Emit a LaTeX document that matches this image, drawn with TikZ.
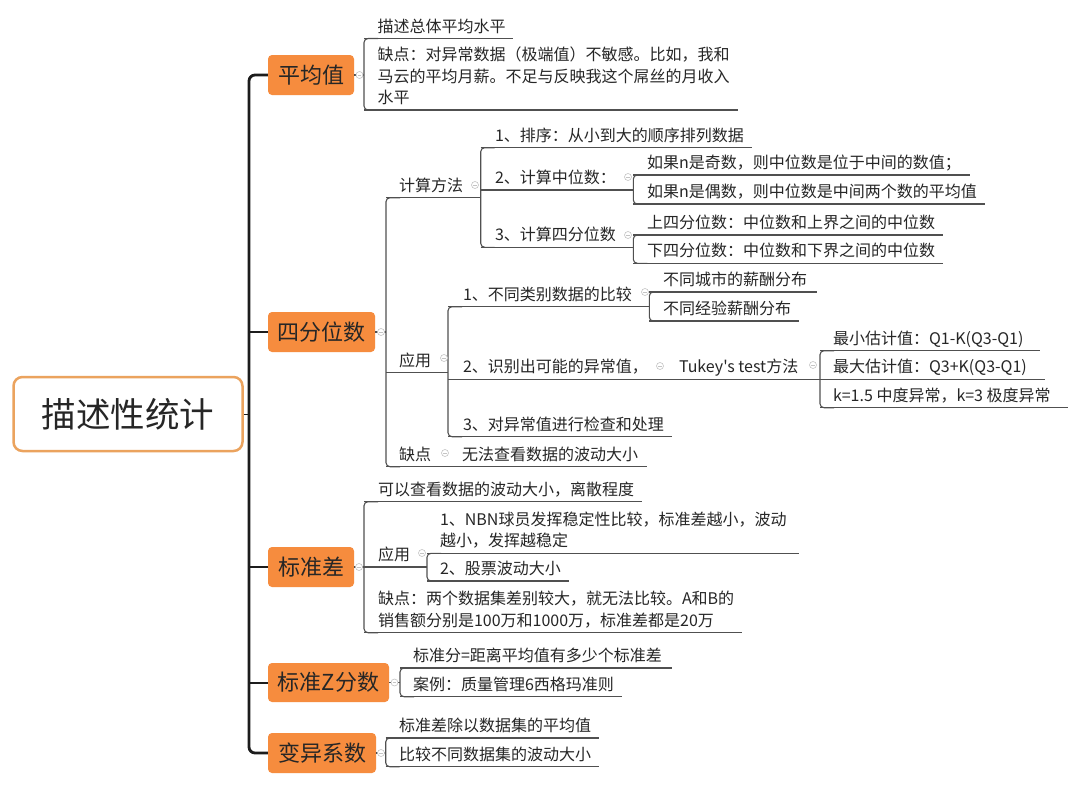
\documentclass[tikz,border=0pt]{standalone}
\usepackage{fontspec}
\setmainfont{Noto Sans CJK SC}[Ligatures=TeXOff]
\usetikzlibrary{calc}
\definecolor{orangefill}{HTML}{F68C3E}
\definecolor{rootborder}{HTML}{EBA35E}
\definecolor{linegray}{HTML}{505050}
\definecolor{txtcol}{HTML}{262626}
\definecolor{icongray}{HTML}{C4C4C4}
\definecolor{spinecol}{HTML}{1C1C1C}

\newcommand\ml[1]{\begin{tabular}[b]{@{}l@{}}#1\end{tabular}}
% name, bracket x, underline y, underline end x, text x, text
\newcommand\topic[6]{%
  \coordinate (#1-l) at (#2,#3);
  \coordinate (#1-r) at (#4,#3);
  \draw[uline] (#1-l) -- (#1-r);
  \node[txt] (#1) at (#5,#3-6.5) {#6};
}
\newcommand\brk[2]{\draw[uline,rounded corners=4pt] ($(#1-l)+(14,0)$) -- (#1-l) -- (#2-l) -- ($(#2-l)+(14,0)$);}
\newcommand\icon[3]{\node[iconc] (#1) at (#2,#3) {};\draw[icongray,line width=0.6pt] ($(#1.center)+(-1.8,0)$) -- ($(#1.center)+(1.8,0)$);}

\begin{document}
\begin{tikzpicture}[x=1pt,y=-1pt,
  uline/.style={draw=linegray,line width=1.1pt},
  txt/.style={anchor=base west,inner sep=0pt,outer sep=0pt,text=txtcol,font=\fontsize{16}{21.5}\selectfont},
  l1box/.style={fill=orangefill,rounded corners=4pt,minimum height=40pt,inner sep=0pt,text=txtcol,font=\fontsize{22}{26}\selectfont},
  rootbox/.style={draw=rootborder,line width=2.5pt,fill=white,rounded corners=9pt,minimum width=229pt,minimum height=74pt,inner sep=0pt,text=txtcol,font=\fontsize{34.5}{40}\selectfont},
  spine/.style={draw=spinecol,line width=2.8pt,rounded corners=6pt},
  branch/.style={draw=spinecol,line width=2pt},
  iconc/.style={circle,draw=icongray,line width=0.6pt,fill=white,minimum size=7pt,inner sep=0pt}
]
\fill[white] (0,0) rectangle (1080,785);
\useasboundingbox (0,0) rectangle (1080,785);

% root and level-1 nodes
\node[rootbox] (root) at (128,414) {描述性统计};
\node[l1box,minimum width=86pt] (p1) at (311,75) {平均值};
\node[l1box,minimum width=107pt] (p2) at (321.5,332) {四分位数};
\node[l1box,minimum width=86pt] (p3) at (311,567) {标准差};
\node[l1box,minimum width=121pt,minimum height=39pt] (p4) at (328.5,682.5) {标准Z分数};
\node[l1box,minimum width=108pt] (p5) at (322,753) {变异系数};

% spine
\coordinate (sp1) at (249,75);
\coordinate (sp5) at (249,753);
\coordinate (sproot) at (249,414);
\draw[spine] (p1.west) -- (sp1) -- (sp5) -- (p5.west);
\draw[branch] (sp1 |- p2.west) -- (p2.west);
\draw[branch] (sp1 |- p3.west) -- (p3.west);
\draw[branch] (sp1 |- p4.west) -- (p4.west);
\draw[draw=spinecol,line width=1pt] (root.east) -- (sproot);

% ---- 平均值
\topic{a1}{364}{38.5}{513}{377.5}{描述总体平均水平}
\topic{a2}{364}{110}{738}{377.5}{\ml{缺点：对异常数据（极端值）不敏感。比如，我和\\马云的平均月薪。不足与反映我这个屌丝的月收入\\水平}}
\brk{a1}{a2}
\draw[uline] (p1.east) -- (a1-l |- p1.east);

% ---- 四分位数
\topic{b1}{386}{197.7}{480.7}{399}{计算方法}
\topic{c1}{480.7}{147.7}{752}{495}{1、排序：从小到大的顺序排列数据}
\topic{c2}{480.7}{190}{633.3}{495}{2、计算中位数：}
\topic{c3}{480.7}{247.3}{633.3}{495}{3、计算四分位数}
\brk{c1}{c3}
\topic{d1}{633.3}{175}{970}{647}{如果n是奇数，则中位数是位于中间的数值；}
\topic{d2}{633.3}{204}{985}{647}{如果n是偶数，则中位数是中间两个数的平均值}
\brk{d1}{d2}
\topic{d3}{633.3}{235}{943}{647}{上四分位数：中位数和上界之间的中位数}
\topic{d4}{633.3}{263.3}{943}{647}{下四分位数：中位数和下界之间的中位数}
\brk{d3}{d4}

\topic{b2}{386}{372.7}{448}{399}{应用}
\topic{e1}{448}{306.7}{649.3}{463}{1、不同类别数据的比较}
\topic{f1}{649.3}{292}{816.7}{663}{不同城市的薪酬分布}
\topic{f2}{649.3}{321}{799}{663}{不同经验薪酬分布}
\brk{f1}{f2}
\topic{e2}{448}{379.3}{665}{463}{2、识别出可能的异常值，}
\topic{g1}{665}{379.3}{820}{679}{Tukey's test方法}
\topic{h1}{820}{350.7}{1040}{833}{最小估计值：Q1-K(Q3-Q1)}
\topic{h2}{820}{379.3}{1045}{833}{最大估计值：Q3+K(Q3-Q1)}
\topic{h3}{820}{407.7}{1068}{833}{k=1.5 中度异常，k=3 极度异常}
\brk{h1}{h3}
\topic{e3}{448}{436.7}{671.7}{463}{3、对异常值进行检查和处理}
\brk{e1}{e3}

\topic{b3}{386}{466.7}{448}{399}{缺点}
\topic{b3c}{448}{466.7}{646.7}{462}{无法查看数据的波动大小}
\brk{b1}{b3}
\draw[uline] (p2.east) -- (b1-l |- p2.east);

% ---- 标准差
\topic{s1}{364}{501.7}{642}{378}{可以查看数据的波动大小，离散程度}
\topic{s2}{364}{567}{427}{378}{应用}
\topic{s21}{427}{553.3}{799}{440}{\ml{1、NBN球员发挥稳定性比较，标准差越小，波动\\越小，发挥越稳定}}
\topic{s22}{427}{581}{569}{440}{2、股票波动大小}
\brk{s21}{s22}
\topic{s3}{364}{632.7}{742}{378}{\ml{缺点：两个数据集差别较大，就无法比较。A和B的\\销售额分别是100万和1000万，标准差都是20万}}
\brk{s1}{s3}
\draw[uline] (p3.east) -- (s1-l |- p3.east);

% ---- 标准Z分数
\topic{z1}{400}{668}{671.7}{413}{标准分=距离平均值有多少个标准差}
\topic{z2}{400}{696.7}{621.7}{413}{案例：质量管理6西格玛准则}
\brk{z1}{z2}
\draw[uline] (p4.east) -- (z1-l |- p4.east);

% ---- 变异系数
\topic{v1}{385.7}{738}{599.3}{399}{标准差除以数据集的平均值}
\topic{v2}{385.7}{766.7}{599.3}{399}{比较不同数据集的波动大小}
\brk{v1}{v2}
\draw[uline] (p5.east) -- (v1-l |- p5.east);

% collapse icons
\icon{i1}{359.5}{75}
\icon{i2}{381}{332}
\icon{i3}{359}{567}
\icon{i4}{394.5}{682.5}
\icon{i5}{381}{753}
\icon{i6}{475}{185}
\icon{i7}{628}{177}
\icon{i8}{628}{235}
\icon{i9}{444}{358}
\icon{i10}{645}{292}
\icon{i11}{660}{366}
\icon{i12}{813}{365}
\icon{i13}{445}{453}
\icon{i14}{422}{553}
\end{tikzpicture}
\end{document}
